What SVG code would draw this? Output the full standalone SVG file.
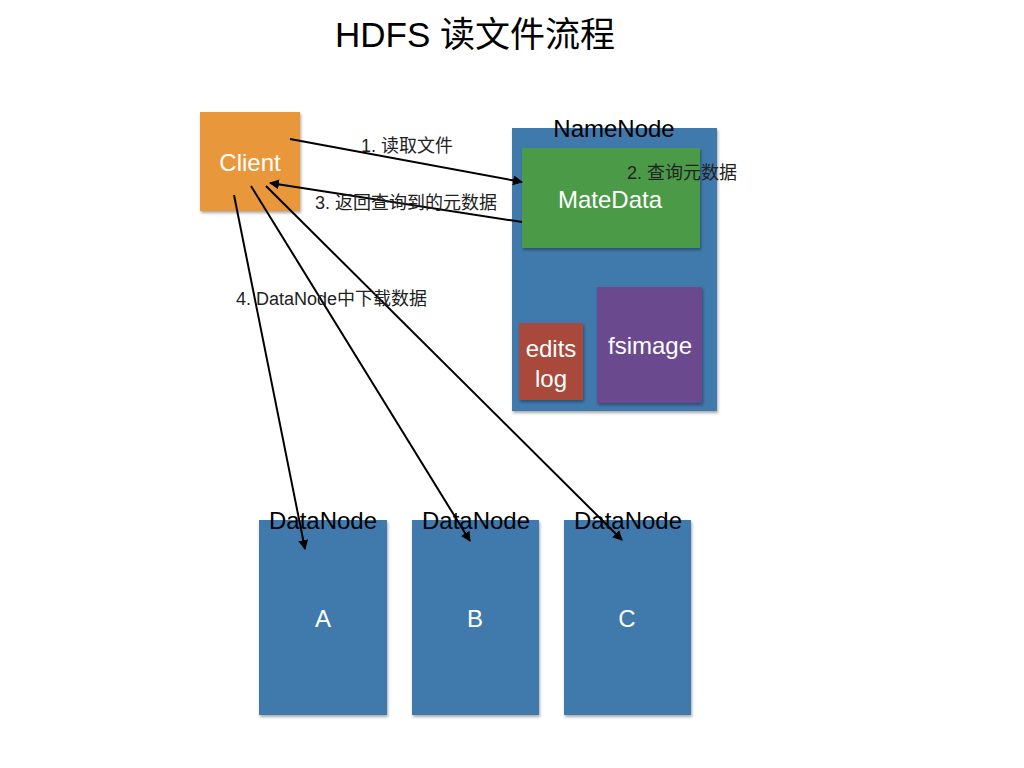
<svg xmlns="http://www.w3.org/2000/svg" width="1024" height="768" viewBox="0 0 1024 768">
<style>
text{font-family:"Liberation Sans","Noto Sans CJK SC",sans-serif}
.w{fill:#fff;font-size:24px;text-anchor:middle}
.b{fill:#000;font-size:24px;text-anchor:middle}
.l{fill:#222;font-size:18px}
.c{stroke:#000;stroke-width:2;fill:none;marker-end:url(#ah)}
</style>
<defs>
<marker id="ah" viewBox="0 0 10 10" refX="9" refY="5" markerWidth="5" markerHeight="5" orient="auto"><path d="M0,0 L10,5 L0,10 z" fill="#000"/></marker>
<filter id="sh" x="-10%" y="-10%" width="130%" height="130%"><feDropShadow dx="1" dy="2" stdDeviation="1.5" flood-color="#000" flood-opacity="0.35"/></filter>
</defs>
<rect width="1024" height="768" fill="#fff"/>
<text x="475" y="47" style="font-size:35px;text-anchor:middle;fill:#000">HDFS 读文件流程</text>
<g id="client"><rect x="200" y="112" width="100" height="99" fill="#E8983A" filter="url(#sh)"/><text class="w" x="250" y="171">Client</text></g>
<g id="namenode"><rect x="512" y="128" width="205" height="283" fill="#4179AC" filter="url(#sh)"/><text class="b" x="614" y="137">NameNode</text></g>
<g id="matedata"><rect x="522" y="148" width="178" height="100" fill="#4C9A47" filter="url(#sh)"/><text class="w" x="610" y="208">MateData</text></g>
<g id="editslog"><rect x="519" y="323" width="64" height="77" fill="#A8483A" filter="url(#sh)"/><text class="w" x="551" y="357">edits</text><text class="w" x="551" y="387">log</text></g>
<g id="fsimage"><rect x="597" y="287" width="105" height="116" fill="#6B4A8E" filter="url(#sh)"/><text class="w" x="650" y="354">fsimage</text></g>
<g id="datanodeA"><rect x="259" y="520" width="128" height="195" fill="#4179AC" filter="url(#sh)"/><text class="b" x="323" y="529">DataNode</text><text class="w" x="323" y="627">A</text></g>
<g id="datanodeB"><rect x="412" y="520" width="127" height="195" fill="#4179AC" filter="url(#sh)"/><text class="b" x="476" y="529">DataNode</text><text class="w" x="475" y="627">B</text></g>
<g id="datanodeC"><rect x="564" y="520" width="127" height="195" fill="#4179AC" filter="url(#sh)"/><text class="b" x="628" y="529">DataNode</text><text class="w" x="627" y="627">C</text></g>
<g id="connectors">
<path class="c" d="M290,139 L522,182"/>
<path class="c" d="M522,222 L270,183"/>
<path class="c" d="M234,195 L305,549"/>
<path class="c" d="M251,186 L470,541"/>
<path class="c" d="M266,186 L622,540"/>
</g>
<text class="l" x="361" y="152">1. 读取文件</text>
<text class="l" x="627" y="179">2. 查询元数据</text>
<text class="l" x="315" y="209">3. 返回查询到的元数据</text>
<text class="l" x="236" y="305">4. DataNode中下载数据</text>
</svg>
